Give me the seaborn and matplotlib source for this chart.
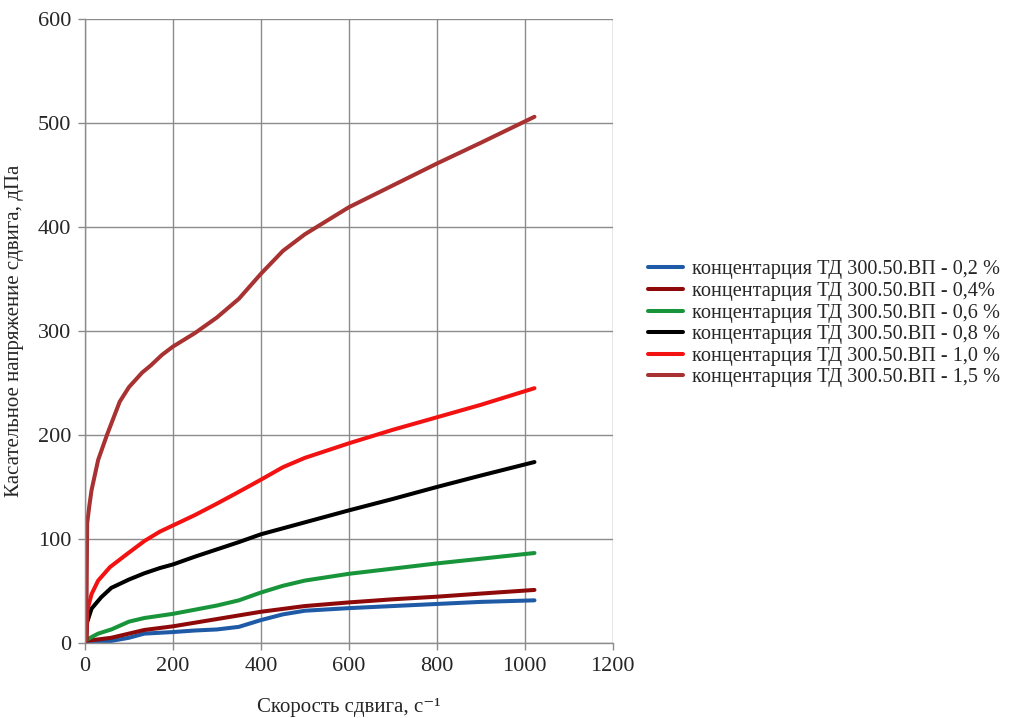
import numpy as np
import pandas as pd
import seaborn as sns
from matplotlib import pyplot as plt

# скорость сдвига, с^-1 и касательное напряжение, дПа
x_02 = [3, 60, 100, 135, 200, 250, 300, 350, 400, 450, 500, 600, 700, 800, 900, 1022]
y_02 = [2, 2, 5, 9, 10.5, 12, 13, 15.5, 22, 27.5, 31, 33.5, 35.5, 37.5, 39.5, 41]

x_04 = [3, 60, 100, 135, 200, 300, 400, 500, 600, 700, 800, 900, 1022]
y_04 = [2, 5, 9, 12.5, 16, 23, 30, 35.5, 39, 42, 44.5, 47.5, 51]

x_06 = [3, 30, 60, 100, 135, 200, 250, 300, 350, 400, 450, 500, 600, 700, 800, 900, 1022]
y_06 = [3, 9, 13, 20.5, 24, 28, 32, 36, 41, 48.5, 55, 60, 66.5, 71.5, 76.5, 81, 86.5]

x_08 = [3, 5, 15, 37, 60, 100, 135, 170, 200, 250, 300, 350, 400, 500, 600, 700, 800, 900, 1022]
y_08 = [3, 20, 33, 44, 53, 61, 67, 72, 75.5, 83, 90, 97, 104.5, 116, 127.5, 138.5, 150, 161, 174]

x_10 = [3, 5, 15, 30, 57, 94, 135, 170, 200, 250, 300, 344, 400, 450, 500, 600, 700, 800, 900, 1022]
y_10 = [3, 31, 47, 60, 73, 85, 98, 107, 113, 123, 134, 144, 157, 169, 178, 192, 205, 217, 229, 245]

x_15 = [3, 5, 10, 15, 30, 50, 79, 100, 130, 150, 175, 200, 250, 300, 350, 400, 450, 500, 600, 700, 800, 900, 1022]
y_15 = [3, 115, 132, 147, 176, 200, 232, 246, 260, 267, 277, 285, 298, 313, 331, 355, 377, 393, 419, 440, 461, 481, 506]

labels = [
    "концентарция ТД 300.50.ВП - 0,2 %",
    "концентарция ТД 300.50.ВП - 0,4%",
    "концентарция ТД 300.50.ВП - 0,6 %",
    "концентарция ТД 300.50.ВП - 0,8 %",
    "концентарция ТД 300.50.ВП - 1,0 %",
    "концентарция ТД 300.50.ВП - 1,5 %",
]
colors = ["#1f5aa6", "#8e0a0a", "#18953a", "#000000", "#f21212", "#a83131"]

series = [(x_02, y_02), (x_04, y_04), (x_06, y_06), (x_08, y_08), (x_10, y_10), (x_15, y_15)]
df = pd.concat(
    [pd.DataFrame({"x": xs, "y": ys, "serie": lab}) for (xs, ys), lab in zip(series, labels)],
    ignore_index=True,
)

sns.set_style("white")
plt.rcParams["font.family"] = ["Liberation Serif", "DejaVu Serif"]

fig = plt.figure(figsize=(10.15, 7.18), dpi=100)
ax = fig.add_axes([0.0837, 0.1045, 0.520, 0.869])

sns.lineplot(
    data=df, x="x", y="y", hue="serie", hue_order=labels,
    palette=dict(zip(labels, colors)), sort=False, estimator=None,
    linewidth=2.9, ax=ax, legend=True,
)

ax.set_xlim(0, 1200)
ax.set_ylim(0, 600)
ax.set_xticks(np.arange(0, 1201, 200))
ax.set_yticks(np.arange(0, 601, 100))
ax.grid(True, color="#8c8c8c", linewidth=1.0)
ax.set_axisbelow(True)
for side in ["top", "right"]:
    ax.spines[side].set_visible(False)
for side in ["left", "bottom"]:
    ax.spines[side].set_color("#8c8c8c")
    ax.spines[side].set_linewidth(1.0)
ax.tick_params(axis="both", direction="out", length=5, width=1.0, color="#8c8c8c",
               labelsize=16, pad=5, bottom=True, left=True)

ax.set_xlabel("Скорость сдвига, с⁻¹", fontsize=15)
ax.xaxis.set_label_coords(0.5, -0.088)
ax.xaxis.label.set_va("top")
ax.set_ylabel("Касательное напряжение сдвига, дПа", fontsize=15, labelpad=10)

handles, labs = ax.get_legend_handles_labels()
ax.get_legend().remove()
fig.legend(
    handles, labs, loc="center left", bbox_to_anchor=(0.628, 0.549),
    frameon=False, fontsize=14.6, handlelength=1.75, handletextpad=0.45,
    labelspacing=0.12, borderpad=0,
)

plt.savefig("out.png", dpi=100)
plt.close()
